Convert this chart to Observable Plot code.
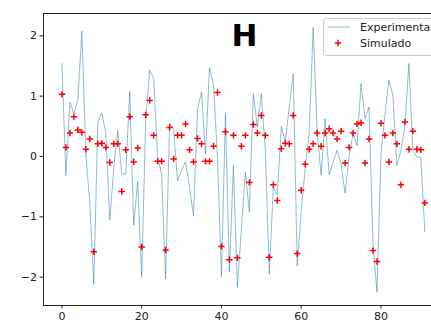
<!DOCTYPE html>
<html><head><meta charset="utf-8">
<script src="https://cdn.jsdelivr.net/npm/d3@7"></script>
<script src="https://cdn.jsdelivr.net/npm/@observablehq/plot@0.6"></script>
<style>html,body{margin:0;padding:0;background:#fff;overflow:hidden;} #chart svg{display:block}</style>
</head><body><div id="chart"></div>
<script>
const experimental = [1.54, -0.31, 0.90, 0.71, 0.94, 2.08, 0.04, -0.78, -2.12, 0.57,
  0.72, 0.38, -1.05, -0.20, 0.43, -0.29, -0.29, 1.08, -1.14, -0.41,
  -2.00, 0.60, 1.43, 1.29, 0.00, -0.30, -2.03, 0.55, 0.45, -0.40,
  -0.23, -0.09, -0.51, -0.98, 0.79, 1.07, 0.04, 1.47, 1.20, 0.00,
  -2.00, 0.71, -1.92, -0.15, -2.17, -1.21, -0.26, -0.92, 1.04, 0.49,
  1.04, 0.10, -1.95, -0.51, -0.65, 0.50, 0.24, 0.82, 1.37, -1.81,
  -0.90, -0.20, 0.40, 2.14, 0.40, -0.31, 0.63, -0.30, -0.09, 0.10,
  -0.12, -0.61, 0.00, 0.38, 0.18, 1.21, 0.63, 0.82, -1.45, -2.25,
  0.05, 0.70, 1.26, 1.01, -0.15, 0.10, 0.51, 1.54, 0.10, -0.01,
  -0.01, -1.25];
const simulado = [1.03, 0.15, 0.39, 0.66, 0.44, 0.40, 0.12, 0.29, -1.58, 0.21,
  0.22, 0.15, -0.10, 0.21, 0.21, -0.58, 0.11, 0.66, -0.09, 0.14,
  -1.50, 0.69, 0.93, 0.35, -0.08, -0.08, -1.55, 0.48, -0.04, 0.35,
  0.35, 0.54, 0.11, -0.09, 0.30, 0.21, -0.08, -0.08, 0.17, 1.06,
  -1.49, 0.41, -1.71, 0.35, -1.68, 0.17, 0.35, -0.43, 0.53, 0.39,
  0.68, 0.35, -1.67, -0.47, -0.73, 0.13, 0.22, 0.21, 0.68, -1.61,
  -0.56, -0.13, 0.12, 0.21, 0.39, 0.17, 0.39, 0.46, 0.39, 0.29,
  0.42, -0.11, 0.15, 0.39, 0.54, 0.56, -0.11, 0.29, -1.56, -1.74,
  0.55, 0.35, -0.09, 0.39, 0.21, -0.47, 0.57, 0.12, 0.42, 0.12,
  0.11, -0.77];
const xTicks = [0, 20, 40, 60, 80];
const yTicks = [-2, -1, 0, 1, 2];
const title = "H";
const seriesNames = ["Experimental", "Simulado"];

const expData = experimental.map((v, i) => ({x: i, y: v}));
const simData = simulado.map((v, i) => ({x: i, y: v}));

const xDomain = [-4.62, 92.67];
const yDomain = [-2.47, 2.37];
const lineColor = "#1f77b4";
const fmt = d3.format("d");

const plot = Plot.plot({
  width: 431, height: 331,
  marginLeft: 43, marginRight: 0, marginTop: 13, marginBottom: 26,
  style: {fontFamily: "DejaVu Sans", fontSize: "11px", color: "#222", background: "white", overflow: "hidden"},
  x: {domain: xDomain, label: null},
  y: {domain: yDomain, label: null},
  marks: [
    Plot.axisX({ticks: xTicks, tickSize: 3.5, tickPadding: 3, label: null, tickFormat: fmt}),
    Plot.axisY({ticks: yTicks, tickSize: 3.5, tickPadding: 3, label: null, tickFormat: fmt}),
    Plot.line(expData, {x: "x", y: "y", stroke: lineColor, strokeOpacity: 0.5, strokeWidth: 1, clip: true}),
    Plot.dot(simData, {x: "x", y: "y", symbol: "plus", stroke: "red", r: 2.2, strokeWidth: 1.5, clip: true}),
    Plot.ruleX([xDomain[0]], {stroke: "#222"}),
    Plot.ruleY([yDomain[0], yDomain[1]], {stroke: "#222"})
  ]
});
document.getElementById("chart").appendChild(plot);

const svg = d3.select(plot);
svg.append("text")
  .attr("x", 244.5).attr("y", 46)
  .attr("text-anchor", "middle")
  .attr("font-family", "DejaVu Sans").attr("font-weight", "bold").attr("font-size", 31)
  .attr("fill", "#000").text(title);

const lg = svg.append("g").attr("font-family", "DejaVu Sans").attr("font-size", 11)
  .attr("fill", "#222").attr("text-anchor", "start");
lg.append("rect").attr("x", 323.5).attr("y", 18.5).attr("width", 130).attr("height", 37).attr("rx", 3)
  .attr("fill", "white").attr("fill-opacity", 0.8).attr("stroke", "#ccc");
lg.append("line").attr("x1", 328).attr("x2", 350).attr("y1", 27).attr("y2", 27)
  .attr("stroke", lineColor).attr("stroke-opacity", 0.5).attr("stroke-width", 1);
lg.append("path").attr("transform", "translate(338,43)")
  .attr("d", d3.symbol(d3.symbolPlus, 2.2 * 2.2 * Math.PI)())
  .attr("fill", "none").attr("stroke", "red").attr("stroke-width", 1.5);
lg.append("text").attr("x", 360).attr("y", 31).attr("text-anchor", "start").text(seriesNames[0]);
lg.append("text").attr("x", 360).attr("y", 47).attr("text-anchor", "start").text(seriesNames[1]);
</script>
</body></html>
